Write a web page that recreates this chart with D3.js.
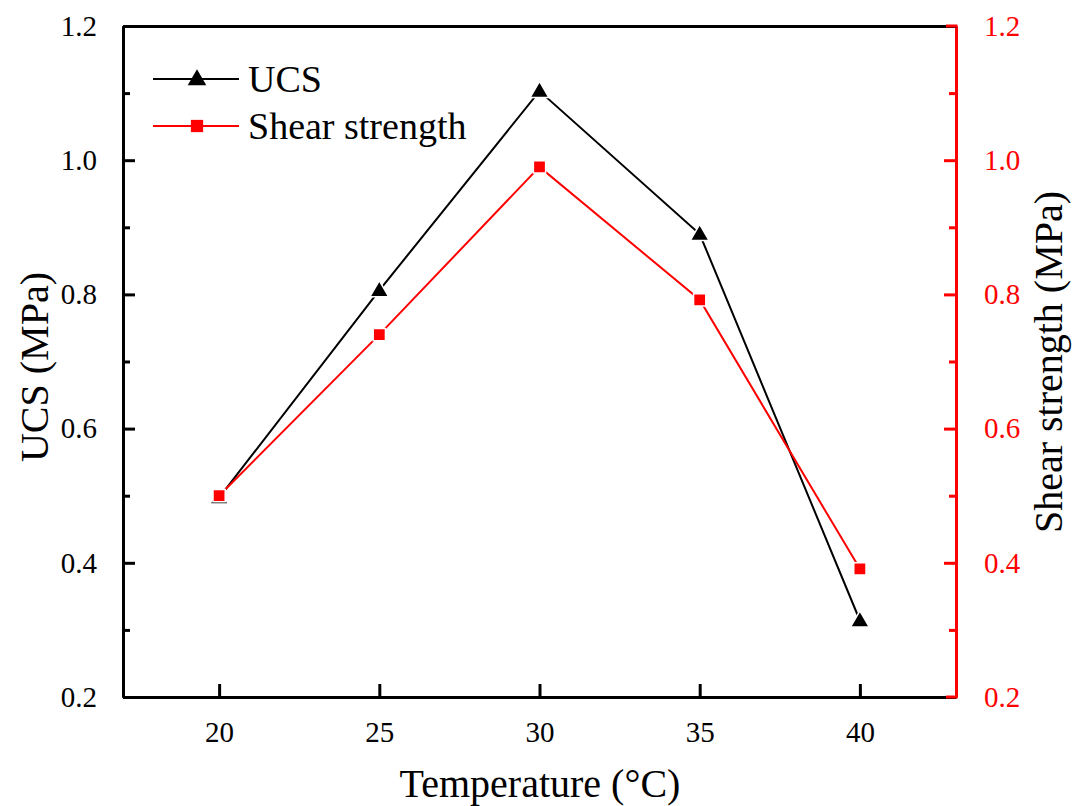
<!DOCTYPE html>
<html><head><meta charset="utf-8">
<script src="https://cdn.jsdelivr.net/npm/d3@7"></script>
<style>body{margin:0;background:#fff}svg{display:block}
svg text{font-family:"Liberation Serif","Times New Roman",Times,"DejaVu Serif",serif !important}</style>
</head><body>
<svg id="c" width="1078" height="806"></svg>
<script>
const temperatures = [20, 25, 30, 35, 40];
const ucsValues = [0.497, 0.806, 1.103, 0.890, 0.314];
const shearValues = [0.500, 0.740, 0.990, 0.792, 0.391];
const xTicks = [20, 25, 30, 35, 40];
const yTicks = [0.2, 0.4, 0.6, 0.8, 1.0, 1.2];
const yMinorTicks = [0.3, 0.5, 0.7, 0.9, 1.1];
const seriesNames = ["UCS", "Shear strength"];

const svg = d3.select("#c");
const L = 123, T = 26, R = 956, B = 697;
const red = "#ff0000";

const x = d3.scaleLinear().domain([17, 43]).range([L, R]);
const yL = d3.scaleLinear().domain([0.2, 1.2]).range([B, T]);
const yR = d3.scaleLinear().domain([0.2, 1.2]).range([B, T]);

// lines
const line = (ys, vals) => d3.line().x((d, i) => x(temperatures[i])).y(d => ys(d))(vals);
svg.append("path").attr("d", line(yL, ucsValues)).attr("fill", "none").attr("stroke", "#000").attr("stroke-width", 2);
svg.append("path").attr("d", line(yR, shearValues)).attr("fill", "none").attr("stroke", red).attr("stroke-width", 2);

const tri = d3.symbol().type(d3.symbolTriangle).size(150);
const sq = d3.symbol().type(d3.symbolSquare).size(150);
svg.selectAll(".ucs").data(ucsValues).join("path")
  .attr("d", tri).attr("transform", (d, i) => `translate(${x(temperatures[i])},${yL(d) + 1})`)
  .attr("fill", "#000").attr("stroke", "#fff").attr("stroke-width", 1.5);
svg.selectAll(".sh").data(shearValues).join("path")
  .attr("d", sq).attr("transform", (d, i) => `translate(${x(temperatures[i])},${yR(d)})`)
  .attr("fill", red).attr("stroke", "#fff").attr("stroke-width", 1.5);

// axes
const fmt = d3.format(".1f");
const gL = svg.append("g").attr("transform", `translate(${L},0)`)
  .call(d3.axisLeft(yL).tickValues(yTicks).tickFormat(fmt).tickSizeInner(-12).tickSizeOuter(0).tickPadding(26));
const gLm = svg.append("g").attr("transform", `translate(${L},0)`)
  .call(d3.axisLeft(yL).tickValues(yMinorTicks).tickFormat("").tickSizeInner(-7).tickSizeOuter(0));
const gR = svg.append("g").attr("transform", `translate(${R},0)`)
  .call(d3.axisRight(yR).tickValues(yTicks).tickFormat(fmt).tickSizeInner(-12).tickSizeOuter(0).tickPadding(28));
const gRm = svg.append("g").attr("transform", `translate(${R},0)`)
  .call(d3.axisRight(yR).tickValues(yMinorTicks).tickFormat("").tickSizeInner(-7).tickSizeOuter(0));
const gB = svg.append("g").attr("transform", `translate(0,${B})`)
  .call(d3.axisBottom(x).tickValues(xTicks).tickFormat(d3.format("d")).tickSizeInner(-13).tickSizeOuter(0).tickPadding(24));
const gT = svg.append("g").attr("transform", `translate(0,${T})`)
  .call(d3.axisTop(x).tickValues([]).tickSizeOuter(0));

[gL, gLm, gB, gT].forEach(g => {
  g.attr("font-family", null);
  g.select(".domain").attr("stroke", "#000").attr("stroke-width", 3);
  g.selectAll(".tick line").attr("stroke", "#000").attr("stroke-width", 3);
  g.selectAll("text").attr("font-size", 29).attr("fill", "#000");
});
[gR, gRm].forEach(g => {
  g.attr("font-family", null);
  g.select(".domain").attr("stroke", red).attr("stroke-width", 3);
  g.selectAll(".tick line").attr("stroke", red).attr("stroke-width", 3);
  g.selectAll("text").attr("font-size", 29).attr("fill", red);
});
gB.selectAll("text").attr("dy", "0.71em");
svg.append("line").attr("x1", R - 10).attr("x2", R + 1.5).attr("y1", B).attr("y2", B).attr("stroke", red).attr("stroke-width", 3);
svg.append("line").attr("x1", R - 10).attr("x2", R + 1.5).attr("y1", T).attr("y2", T).attr("stroke", red).attr("stroke-width", 3);

// titles
svg.append("text").attr("x", 540).attr("y", 797).attr("text-anchor", "middle")
  .attr("font-size", 40).text("Temperature (°C)");
svg.append("text").attr("transform", "translate(48,367) rotate(-90)").attr("text-anchor", "middle")
  .attr("font-size", 40).text("UCS (MPa)");
svg.append("text").attr("transform", "translate(1062,362) rotate(-90)").attr("text-anchor", "middle")
  .attr("font-size", 40).text("Shear strength (MPa)");

// legend
const lg = svg.append("g");
const legY = [79, 126];
lg.append("line").attr("x1", 153).attr("x2", 239).attr("y1", legY[0]).attr("y2", legY[0]).attr("stroke", "#000").attr("stroke-width", 2);
lg.append("path").attr("d", tri).attr("transform", `translate(197,${legY[0] + 1})`).attr("fill", "#000");
lg.append("line").attr("x1", 153).attr("x2", 239).attr("y1", legY[1]).attr("y2", legY[1]).attr("stroke", red).attr("stroke-width", 2);
lg.append("path").attr("d", sq).attr("transform", `translate(197,${legY[1]})`).attr("fill", red);
seriesNames.forEach((n, i) => {
  lg.append("text").attr("x", 248).attr("y", legY[i] + 13).attr("font-size", 38).attr("fill", "#000").text(n);
});
</script>
</body></html>
